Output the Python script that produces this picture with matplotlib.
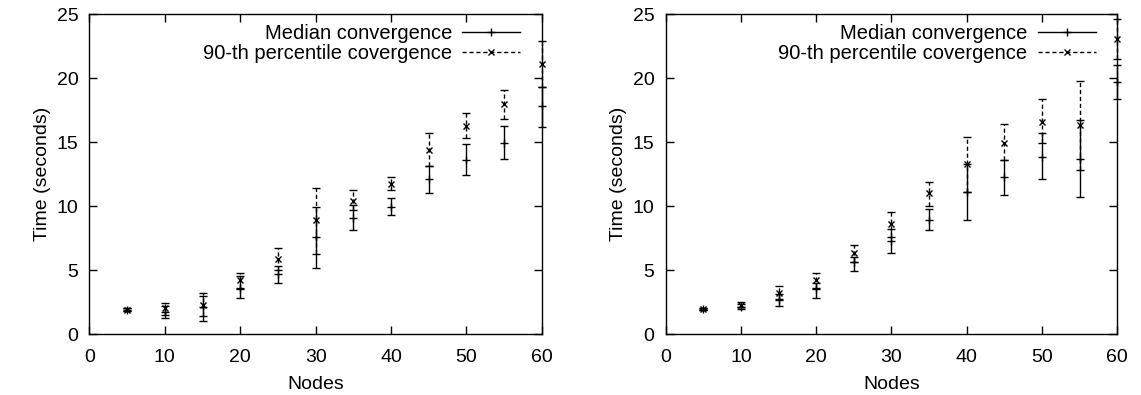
import matplotlib.pyplot as plt
from matplotlib.lines import Line2D
import numpy as np

plt.rcParams['font.family'] = ['Liberation Sans', 'DejaVu Sans']
plt.rcParams['font.size'] = 14

nodes = [5, 10, 15, 20, 25, 30, 35, 40, 45, 50, 55, 60]

# left panel
left_med = [1.9, 1.75, 2.1, 3.55, 4.7, 7.55, 9.05, 9.95, 12.1, 13.6, 14.95, 17.8]
left_med_lo = [1.8, 1.25, 1.05, 2.85, 4.0, 5.2, 8.1, 9.3, 11.0, 12.45, 13.65, 16.2]
left_med_hi = [2.0, 2.2, 3.0, 4.5, 5.3, 9.9, 10.05, 10.6, 13.15, 14.85, 16.3, 19.35]
left_p90 = [1.9, 2.05, 2.25, 4.2, 5.85, 8.9, 10.4, 11.75, 14.4, 16.3, 18.0, 21.1]
left_p90_lo = [1.8, 1.5, 1.4, 3.6, 5.0, 6.25, 9.7, 11.25, 13.1, 15.3, 16.8, 19.35]
left_p90_hi = [2.0, 2.45, 3.2, 4.8, 6.7, 11.4, 11.3, 12.25, 15.7, 17.3, 19.1, 22.9]

# right panel
right_med = [1.93, 2.15, 2.65, 3.5, 5.6, 7.3, 8.9, 11.1, 12.25, 13.85, 13.7, 19.7]
right_med_lo = [1.85, 1.95, 2.2, 2.85, 4.95, 6.35, 8.1, 8.9, 10.9, 12.1, 10.7, 18.4]
right_med_hi = [2.0, 2.35, 3.1, 4.0, 6.05, 8.2, 9.75, 13.3, 13.6, 15.7, 16.7, 21.0]
right_p90 = [1.95, 2.3, 3.2, 4.2, 6.35, 8.6, 11.05, 13.3, 14.9, 16.6, 16.35, 23.05]
right_p90_lo = [1.85, 2.1, 2.7, 3.6, 5.6, 7.6, 10.0, 11.1, 13.6, 14.9, 12.8, 21.5]
right_p90_hi = [2.05, 2.5, 3.75, 4.8, 6.95, 9.55, 11.9, 15.4, 16.4, 18.35, 19.8, 24.6]

fig = plt.figure(figsize=(11.41, 3.95), dpi=100)
ax1 = fig.add_axes([0.0784, 0.1544, 0.3964, 0.8094])
ax2 = fig.add_axes([0.5834, 0.1544, 0.3958, 0.8094])


def draw(ax, med, med_lo, med_hi, p90, p90_lo, p90_hi):
    med = np.array(med)
    p90 = np.array(p90)
    err_med = [med - np.array(med_lo), np.array(med_hi) - med]
    err_p90 = [p90 - np.array(p90_lo), np.array(p90_hi) - p90]
    ax.errorbar(nodes, med, yerr=err_med, fmt='+', color='black', ms=6,
                mew=1, elinewidth=1, capsize=3, capthick=1, clip_on=False)
    eb = ax.errorbar(nodes, p90, yerr=err_p90, fmt='x', color='black', ms=5,
                     mew=1, elinewidth=1, capsize=3, capthick=1, clip_on=False)
    eb[2][0].set_linestyle((0, (3, 2)))
    ax.set_xlim(0, 60)
    ax.set_ylim(0, 25)
    ax.set_xticks(range(0, 61, 10))
    ax.set_yticks(range(0, 26, 5))
    ax.tick_params(direction='in', length=6, width=1, top=True, right=True, pad=8)
    ax.tick_params(axis='x', pad=11)
    for s in ax.spines.values():
        s.set_linewidth(1)
    ax.set_xlabel('Nodes', labelpad=7)
    ax.set_ylabel('Time (seconds)', labelpad=4)
    handles = [Line2D([], [], color='black', ls='-', lw=1, marker='+', ms=6),
               Line2D([], [], color='black', ls=(0, (3, 2)), lw=1, marker='x', ms=5)]
    ax.legend(handles, ['Median convergence', '90-th percentile covergence'],
              loc='upper right', frameon=False, markerfirst=False,
              handlelength=2.9, handletextpad=0.5, labelspacing=0.05,
              borderaxespad=0.1, bbox_to_anchor=(0.975, 1.0), fontsize=14.5)


draw(ax1, left_med, left_med_lo, left_med_hi, left_p90, left_p90_lo, left_p90_hi)
draw(ax2, right_med, right_med_lo, right_med_hi, right_p90, right_p90_lo, right_p90_hi)

fig.savefig('out.png', dpi=100)
